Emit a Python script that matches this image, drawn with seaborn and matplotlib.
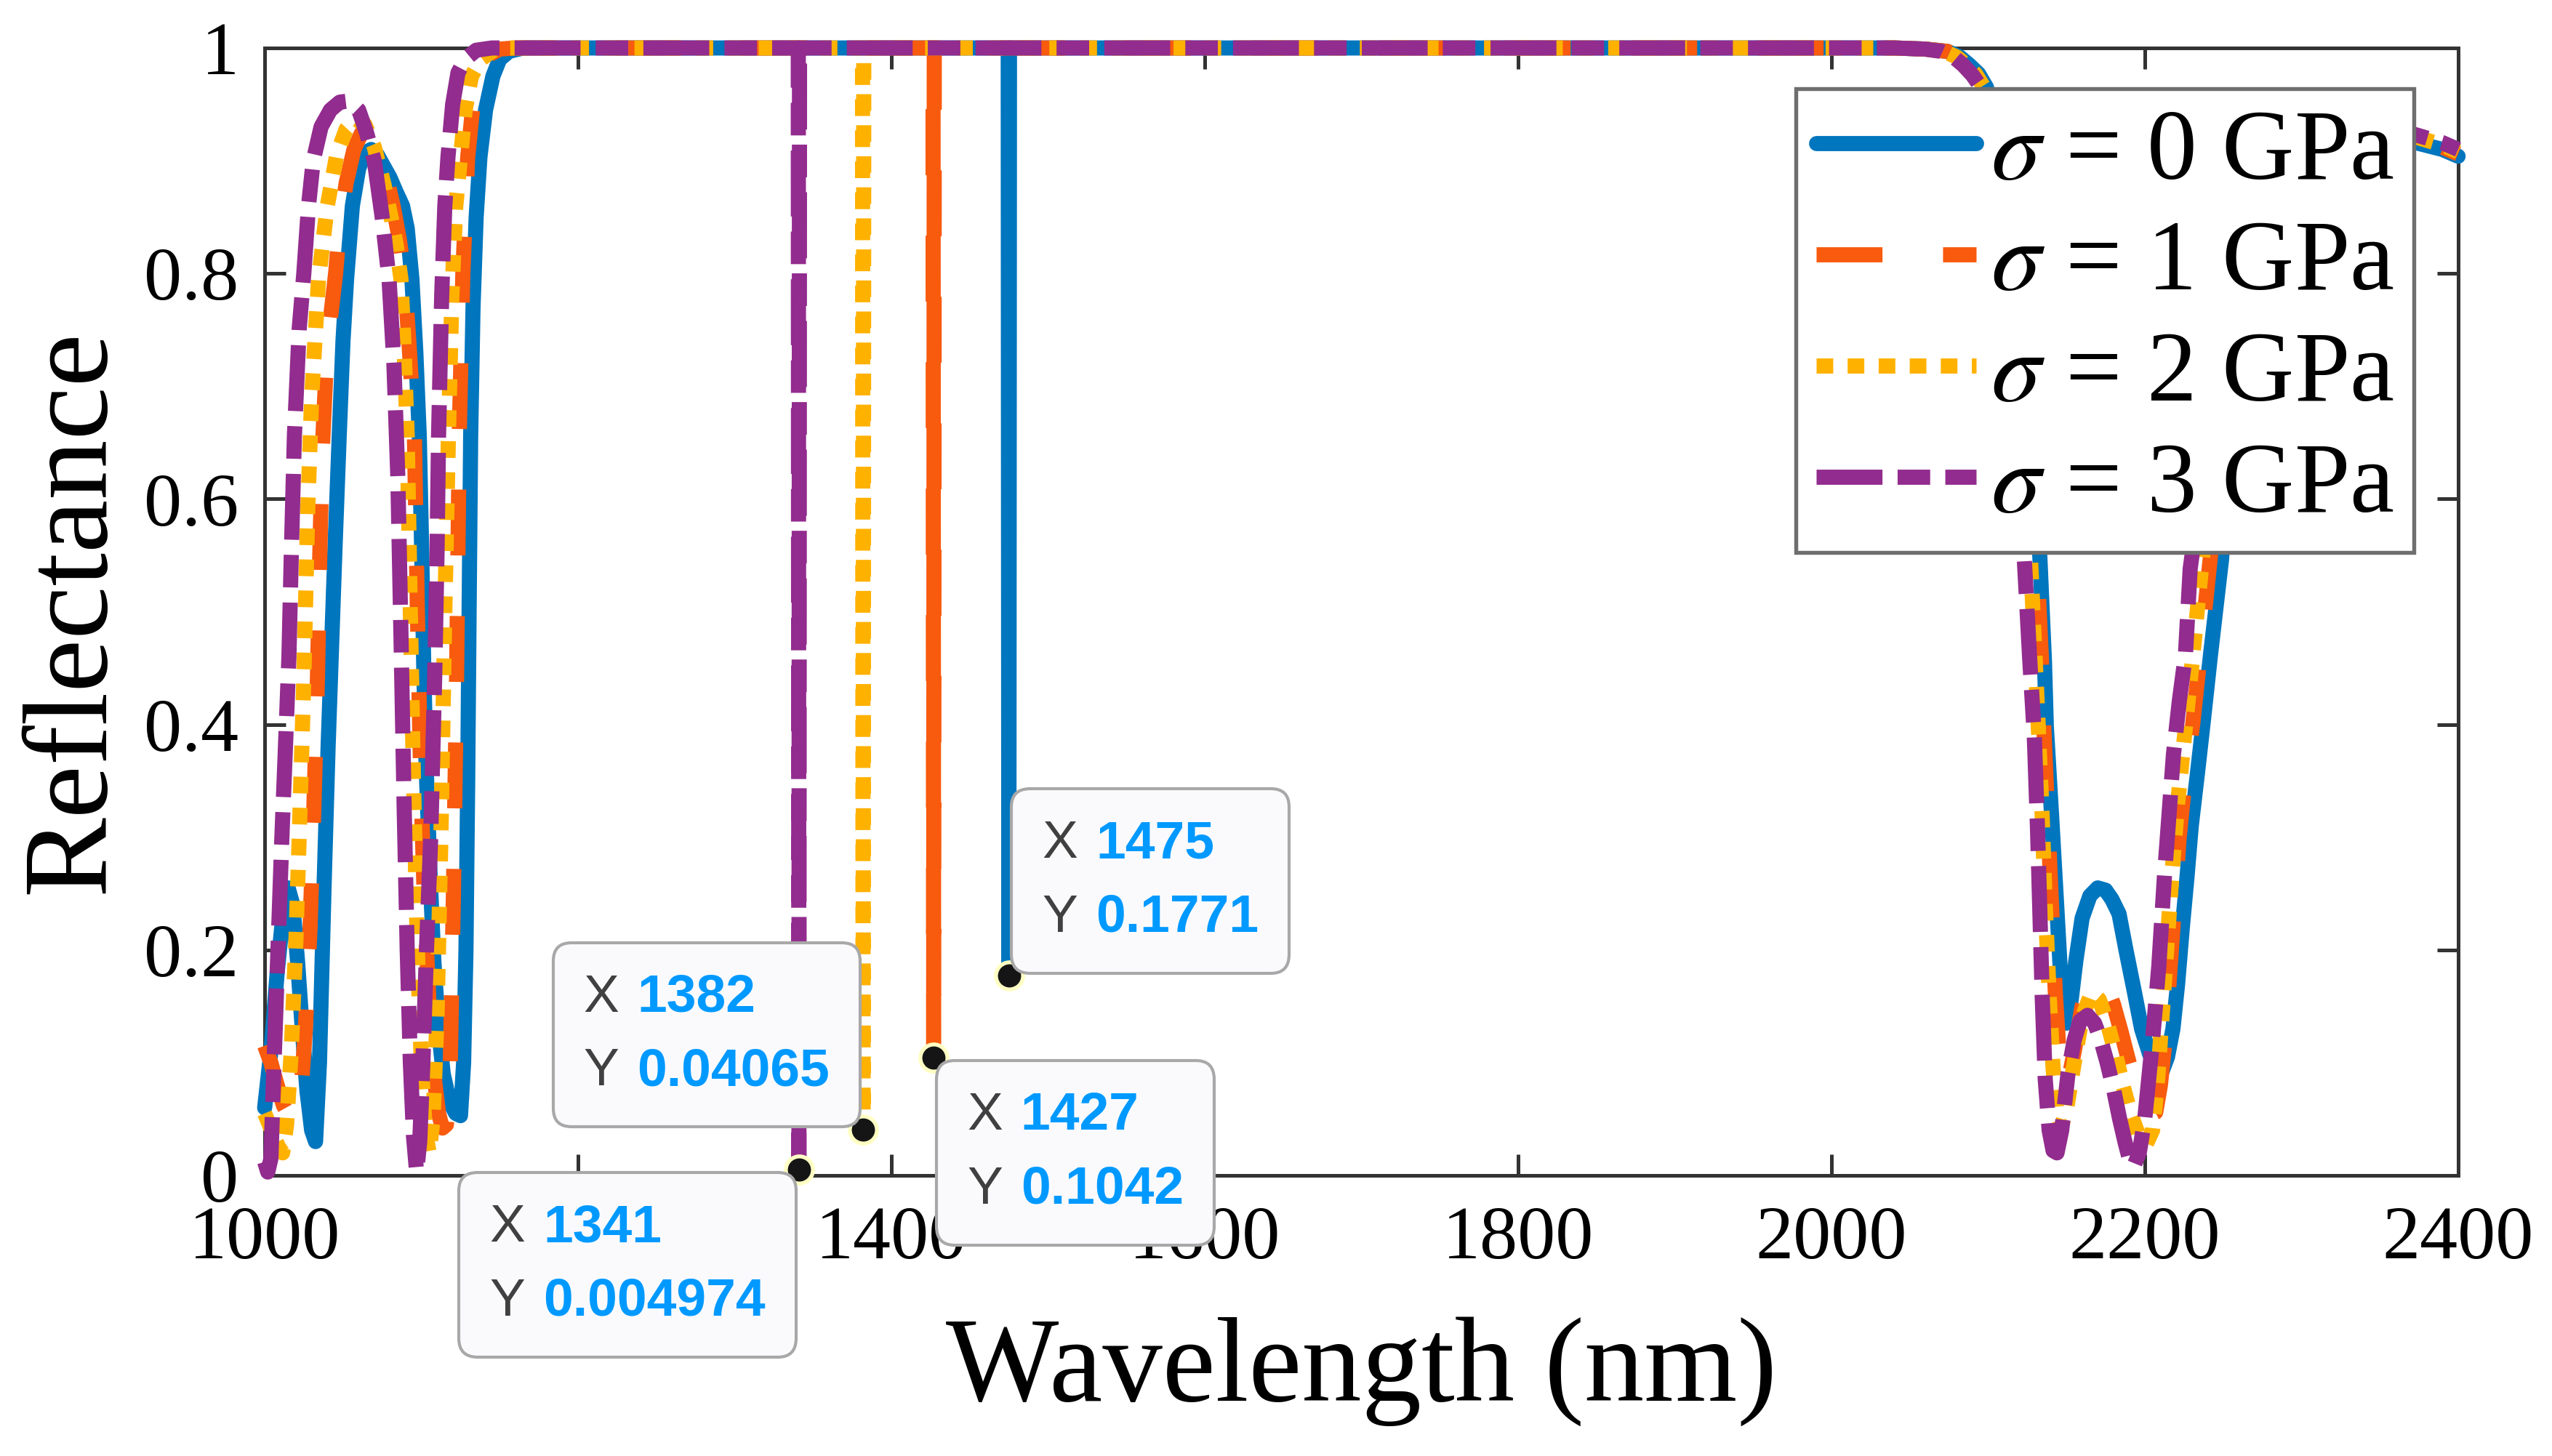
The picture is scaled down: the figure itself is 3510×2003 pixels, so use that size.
import numpy as np
import pandas as pd
import matplotlib
matplotlib.use("Agg")
import matplotlib.pyplot as plt
import seaborn as sns
from matplotlib.offsetbox import TextArea, HPacker, VPacker, AnnotationBbox

# ------------------------------------------------------------------
# data
# ------------------------------------------------------------------
LABELS = [r"$\sigma$ = 0 GPa", r"$\sigma$ = 1 GPa", r"$\sigma$ = 2 GPa", r"$\sigma$ = 3 GPa"]
COLORS = ["#0076BE", "#F85A0E", "#FFB100", "#922C8E"]

# sigma = 0 GPa
wl_0 = [1000, 1004, 1008, 1012, 1015, 1018, 1021, 1024, 1027, 1030, 1032.5, 1035, 1038, 1040.5,
        1042.5, 1045, 1047.6, 1050, 1052.3, 1056, 1060, 1064, 1068, 1072, 1076, 1080, 1084, 1088,
        1091, 1094, 1096.5, 1098.7, 1100.3, 1101.7, 1103, 1105.5, 1108, 1111, 1114, 1118, 1122,
        1125, 1127, 1128.5, 1129.6, 1130.5, 1131.5, 1133, 1135, 1137.4, 1141, 1145.7, 1150, 1156,
        1165, 1474.6, 1475, 1475.4, 2040, 2060, 2074, 2082, 2088, 2094, 2099, 2104, 2109, 2114,
        2119, 2124, 2129, 2133, 2136, 2137.2, 2140.6, 2143.9, 2147, 2150, 2153, 2156, 2160, 2165,
        2170, 2175, 2179, 2183.6, 2188, 2193.5, 2198, 2203, 2207, 2211, 2214.5, 2218, 2221, 2224,
        2227, 2229.7, 2233.5, 2237, 2242, 2249, 2252, 2258, 2265, 2273, 2283, 2295, 2310, 2330,
        2350, 2373, 2390, 2400]
r_0 = [0.06, 0.11, 0.18, 0.235, 0.255, 0.24, 0.19, 0.13, 0.075, 0.04, 0.03, 0.10, 0.26, 0.38,
       0.46, 0.56, 0.656, 0.74, 0.795, 0.86, 0.893, 0.907, 0.91, 0.905, 0.895, 0.885, 0.872, 0.86,
       0.84, 0.795, 0.73, 0.656, 0.55, 0.44, 0.366, 0.27, 0.19, 0.13, 0.09, 0.065, 0.055,
       0.053, 0.10, 0.20, 0.35, 0.50, 0.656, 0.77, 0.85, 0.903, 0.945, 0.975, 0.99, 0.997,
       1.0, 1.0, 0.1771, 1.0, 1.0, 0.999, 0.997, 0.992, 0.985, 0.977, 0.965, 0.94, 0.895, 0.83,
       0.75, 0.68, 0.61, 0.55, 0.456, 0.398, 0.318, 0.237, 0.16, 0.135, 0.155, 0.19, 0.228, 0.248,
       0.255, 0.253, 0.245, 0.232, 0.20, 0.162, 0.13, 0.108, 0.095, 0.092, 0.105, 0.13, 0.17, 0.22,
       0.265, 0.31, 0.355, 0.398, 0.462, 0.546, 0.60, 0.68, 0.76, 0.83, 0.88, 0.91, 0.925, 0.93,
       0.928, 0.916, 0.91, 0.904]

# sigma = 1 GPa
wl_1 = [1000, 1004, 1008, 1012, 1016, 1020, 1023, 1026, 1029, 1031.5, 1033.7, 1035.2, 1036.7,
        1039, 1042, 1045.3, 1047.6, 1052, 1057, 1062, 1067, 1072, 1077, 1082, 1086, 1089.4,
        1092.5, 1095.6, 1097.5, 1099.5, 1102, 1105, 1108, 1111, 1113.5, 1116, 1118.5, 1120.5,
        1122.5, 1124.2, 1126.5, 1129.6, 1133, 1136, 1142, 1150, 1160, 1426.6, 1427, 1427.4,
        2040, 2060, 2074, 2082, 2088, 2094, 2099, 2104, 2109, 2114, 2119, 2124, 2128, 2131, 2134,
        2135.5, 2138, 2140.5, 2143, 2145.5, 2148, 2151, 2155, 2160, 2165, 2170, 2175, 2180, 2185,
        2190, 2195, 2200, 2204, 2207, 2210, 2213, 2216, 2219, 2222, 2226, 2230.6, 2236, 2242,
        2246, 2252, 2260, 2270, 2282, 2295, 2315, 2335, 2355, 2373, 2390, 2400]
r_1 = [0.115, 0.10, 0.08, 0.062, 0.052, 0.05, 0.07, 0.13, 0.22, 0.33, 0.44, 0.55, 0.64,
       0.71, 0.76, 0.80, 0.838, 0.88, 0.91, 0.925, 0.922, 0.91, 0.89, 0.86, 0.83, 0.795,
       0.73, 0.656, 0.50, 0.36, 0.24, 0.15, 0.09, 0.055, 0.042, 0.045, 0.10, 0.25,
       0.44, 0.656, 0.80, 0.903, 0.95, 0.978, 0.993, 0.999, 1.0, 1.0, 0.1042, 1.0,
       1.0, 0.999, 0.997, 0.992, 0.985, 0.976, 0.963, 0.935, 0.89, 0.82, 0.74, 0.665, 0.60, 0.55,
       0.46, 0.40, 0.32, 0.24, 0.16, 0.105, 0.08, 0.082, 0.11, 0.15, 0.17, 0.176, 0.17, 0.152,
       0.127, 0.10, 0.077, 0.062, 0.054, 0.056, 0.08, 0.12, 0.18, 0.24, 0.30, 0.355, 0.40, 0.47,
       0.55, 0.60, 0.68, 0.77, 0.84, 0.885, 0.91, 0.927, 0.932, 0.929, 0.919, 0.912, 0.906]

# sigma = 2 GPa
wl_2 = [1000, 1003, 1006, 1009, 1011.5, 1014, 1017, 1020, 1022.5, 1025, 1027.5, 1030, 1034.4,
        1040, 1046, 1052, 1058, 1064, 1070, 1076, 1081, 1084, 1087, 1089, 1091, 1093, 1095,
        1097.5, 1100, 1102.5, 1105, 1107.5, 1110, 1112.5, 1115, 1117.3, 1119.5, 1122, 1125, 1128,
        1132, 1138, 1146, 1155, 1381.6, 1382, 1382.4, 2040, 2060, 2072, 2080, 2086, 2092, 2097,
        2102, 2107, 2112, 2117, 2121, 2124.5, 2127, 2130, 2132, 2134.5, 2136.5, 2139, 2141.5,
        2144, 2146.5, 2150, 2155, 2160, 2166, 2171, 2176, 2181, 2186, 2191, 2196, 2201, 2205,
        2208, 2211, 2214, 2217.5, 2221, 2226, 2231, 2237, 2241, 2248, 2256, 2266, 2278, 2292,
        2310, 2330, 2352, 2373, 2390, 2400]
r_2 = [0.055, 0.045, 0.034, 0.025, 0.02, 0.045, 0.11, 0.21, 0.32, 0.44, 0.59, 0.69, 0.795,
       0.86, 0.905, 0.928, 0.937, 0.932, 0.912, 0.88, 0.848, 0.825, 0.795, 0.735, 0.656, 0.50,
       0.35, 0.20, 0.10, 0.04, 0.02, 0.05, 0.14, 0.30, 0.50, 0.656, 0.78, 0.86, 0.903, 0.945,
       0.975, 0.99, 0.998, 1.0, 1.0, 0.04065, 1.0, 1.0, 0.999, 0.997, 0.992, 0.985, 0.977, 0.966,
       0.94, 0.895, 0.83, 0.75, 0.68, 0.61, 0.55, 0.46, 0.40, 0.32, 0.24, 0.16, 0.095,
       0.055, 0.042, 0.058, 0.10, 0.14, 0.162, 0.156, 0.136, 0.11, 0.08, 0.055, 0.036, 0.028,
       0.04, 0.08, 0.14, 0.20, 0.27, 0.33, 0.398, 0.465, 0.55, 0.60, 0.68, 0.77, 0.84, 0.885,
       0.912, 0.927, 0.933, 0.93, 0.921, 0.914, 0.908]

# sigma = 3 GPa
wl_3 = [1000, 1002, 1004, 1006, 1008.5, 1011, 1013, 1015.5, 1017, 1019, 1022, 1025, 1028,
        1031, 1036, 1042, 1048, 1054, 1060, 1065, 1070, 1075, 1079.4, 1082.5, 1085, 1087, 1089,
        1091, 1093, 1095, 1097, 1099, 1101, 1103.3, 1106, 1108.5, 1110, 1111, 1113, 1115, 1117,
        1120, 1123.4, 1128, 1135, 1145, 1340.6, 1341, 1341.4, 2040, 2060, 2070, 2078, 2084,
        2090, 2095, 2100, 2105, 2110, 2115, 2119, 2123, 2126.5, 2129.5, 2131.5, 2133, 2134.6,
        2136.5, 2139, 2141.5, 2144, 2147, 2151, 2155, 2158.7, 2163.5, 2168, 2172, 2176, 2180,
        2184, 2187.5, 2190.5, 2193, 2196.5, 2200, 2202.5, 2205, 2209, 2212.6, 2215.5, 2218.3,
        2222, 2226, 2229, 2235, 2240, 2247, 2255, 2265, 2280, 2300, 2325, 2350, 2373, 2390, 2400]
r_3 = [0.012, 0.003, 0.015, 0.10, 0.20, 0.30, 0.37, 0.46, 0.55, 0.656, 0.75, 0.80, 0.86,
       0.90, 0.93, 0.945, 0.952, 0.953, 0.945, 0.925, 0.90, 0.85, 0.795, 0.72, 0.62, 0.48, 0.33,
       0.20, 0.10, 0.035, 0.003, 0.03, 0.10, 0.20, 0.30, 0.44, 0.55, 0.656, 0.78, 0.86, 0.903,
       0.95, 0.978, 0.99, 0.998, 1.0, 1.0, 0.004974, 1.0, 1.0, 0.999, 0.997, 0.992, 0.985,
       0.976, 0.966, 0.945, 0.90, 0.83, 0.74, 0.65, 0.55, 0.46, 0.39, 0.31, 0.237, 0.157,
       0.085, 0.04, 0.022, 0.02, 0.04, 0.09, 0.12, 0.137, 0.142, 0.135, 0.12, 0.10, 0.077,
       0.05, 0.029, 0.013, 0.008, 0.02, 0.05, 0.085, 0.12, 0.186, 0.266, 0.32, 0.373,
       0.42, 0.462, 0.538, 0.60, 0.67, 0.75, 0.82, 0.87, 0.905, 0.925, 0.935, 0.932, 0.923, 0.916, 0.91]

# data tips (defect modes)
TIP_X = [1475, 1427, 1382, 1341]
TIP_Y = [0.1771, 0.1042, 0.04065, 0.004974]
TIP_XTXT = ["1475", "1427", "1382", "1341"]
TIP_YTXT = ["0.1771", "0.1042", "0.04065", "0.004974"]
TIP_ALIGN = [(0, 0), (0, 1), (1, 0), (1, 1)]  # box corner that touches the marker

X_TICKS = [1000, 1200, 1400, 1600, 1800, 2000, 2200, 2400]
Y_TICKS = [0, 0.2, 0.4, 0.6, 0.8, 1]
Y_TICKLABELS = ["0", "0.2", "0.4", "0.6", "0.8", "1"]

# ------------------------------------------------------------------
# style
# ------------------------------------------------------------------
sns.set_theme(style="ticks")
plt.rcParams["font.family"] = ["Liberation Serif", "DejaVu Serif"]
plt.rcParams["mathtext.fontset"] = "stix"
plt.rcParams["text.color"] = "black"
plt.rcParams["axes.labelcolor"] = "black"

curves = [(wl_0, r_0), (wl_1, r_1), (wl_2, r_2), (wl_3, r_3)]
df = pd.concat(
    [pd.DataFrame({"wl": w, "R": r, "label": lab}) for (w, r), lab in zip(curves, LABELS)],
    ignore_index=True,
)

# dash patterns in units of line width (solid, '--', ':', '-.')
DASHES = {
    LABELS[0]: "",
    LABELS[1]: (4.35, 4.0),
    LABELS[2]: (1.1, 0.95),
    LABELS[3]: (4.35, 1.0, 2.15, 1.0),
}

fig = plt.figure(figsize=(11.7, 6.677), dpi=300)
ax = fig.add_axes([0.1037, 0.1927, 0.9632 - 0.1037, 0.967 - 0.1927])

sns.lineplot(
    data=df, x="wl", y="R", hue="label", style="label",
    hue_order=LABELS, style_order=LABELS,
    palette=dict(zip(LABELS, COLORS)), dashes=DASHES,
    estimator=None, errorbar=None, sort=False,
    linewidth=5.0, clip_on=False, zorder=3, legend=False, ax=ax,
)

sns.scatterplot(
    x=TIP_X, y=TIP_Y, s=80, color="#151515", edgecolor="#FFFFC4",
    linewidth=1.3, zorder=6, clip_on=False, legend=False, ax=ax,
)

ax.set_xlim(1000, 2400)
ax.set_ylim(0, 1)
ax.set_xticks(X_TICKS)
ax.set_yticks(Y_TICKS, labels=Y_TICKLABELS)

for sp in ax.spines.values():
    sp.set_color("#333333")
    sp.set_linewidth(1.2)
    sp.set_zorder(2.5)

ax.tick_params(direction="in", top=True, right=True, length=7, width=1.2,
               color="#333333", labelsize=25, labelcolor="black")
ax.tick_params(axis="x", pad=10)
ax.tick_params(axis="y", pad=8.5)

ax.set_xlabel("Wavelength (nm)", fontsize=39.5, labelpad=14, color="black")
ax.set_ylabel("Reflectance", fontsize=39.5, labelpad=5, color="black")

leg = ax.legend(
    handles=ax.lines[:4], labels=LABELS,
    loc="upper right", bbox_to_anchor=(0.98, 0.964), borderaxespad=0,
    fontsize=33, handlelength=1.6, handletextpad=0.15, labelspacing=0.2,
    borderpad=0.2, frameon=True, fancybox=False, framealpha=1,
    edgecolor="#6E6E6E",
)
leg.get_frame().set_linewidth(1.3)
leg.set_zorder(8)
for t in leg.get_texts():
    t.set_color("black")

# data tip boxes
tip_font = dict(family="Liberation Sans", size=17.6)
for tx, ty, sx, sy, (ax_, ay_) in zip(TIP_X, TIP_Y, TIP_XTXT, TIP_YTXT, TIP_ALIGN):
    rows = []
    for key, val in (("X", sx), ("Y", sy)):
        k = TextArea(key, textprops=dict(color="#404040", **tip_font))
        v = TextArea(val, textprops=dict(color="#0099FF", fontweight="bold", **tip_font))
        rows.append(HPacker(children=[k, v], align="baseline", pad=0, sep=6))
    box = VPacker(children=rows, align="left", pad=0, sep=8)
    off = 11
    dx = off if ax_ == 0 else -off
    dy = off if ay_ == 0 else -off
    ab = AnnotationBbox(
        box, (tx, ty), xybox=(dx, dy), xycoords="data", boxcoords="offset points",
        box_alignment=(ax_, ay_), frameon=True, fontsize=17.4, annotation_clip=False,
        bboxprops=dict(boxstyle="round,pad=0.58,rounding_size=0.35",
                       facecolor="#FAFAFD", edgecolor="#A8A8A8", linewidth=1.0),
    )
    ab.set_zorder(10)
    ax.add_artist(ab)

fig.savefig("out.png", dpi=300)
